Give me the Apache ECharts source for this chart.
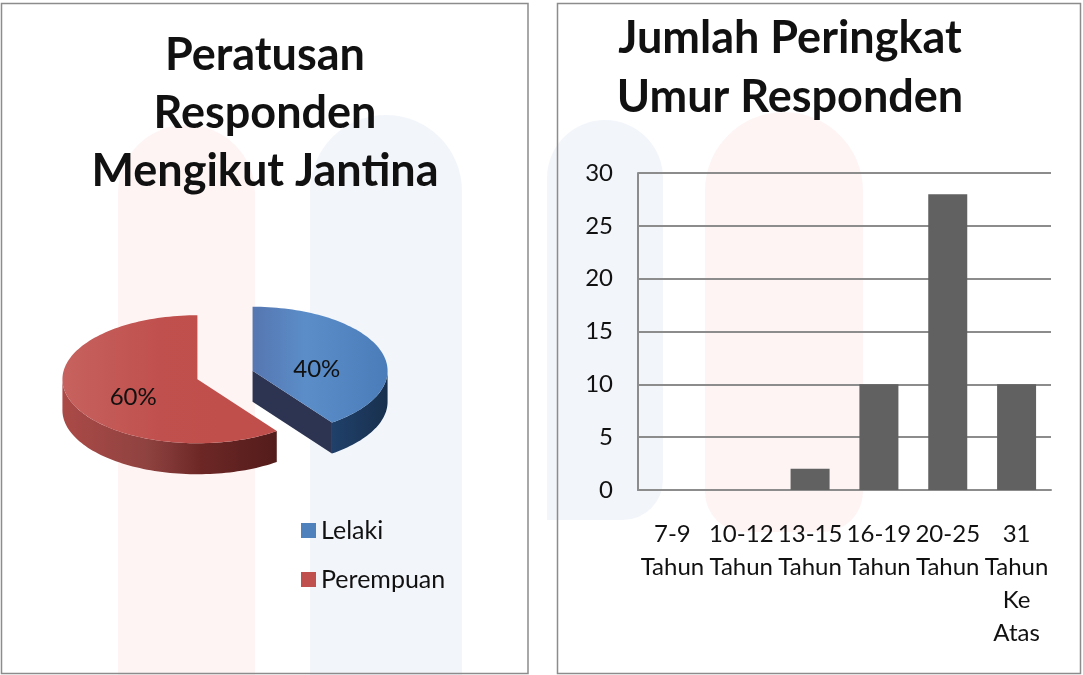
<!DOCTYPE html>
<html>
<head>
<meta charset="utf-8">
<script src="https://cdn.jsdelivr.net/npm/echarts@6/dist/echarts.min.js"></script>
<style>
html, body { margin: 0; padding: 0; background: #fff; }
#main { width: 1083px; height: 675px; }
</style>
</head>
<body>
<div id="main"></div>
<script>
// jantina (pie)
var genderNames = ['Lelaki', 'Perempuan'];
var genderValues = [40, 60];
var genderColors = ['#4f81bd', '#c0504d'];

// umur (bar)
var ageCategories = ['7-9\nTahun', '10-12\nTahun', '13-15\nTahun', '16-19\nTahun', '20-25\nTahun', '31\nTahun\nKe\nAtas'];
var ageValues = [0, 0, 2, 10, 28, 10];
var yMax = 30;
var yStep = 5;

var FONT = 'Lato, "Open Sans", sans-serif';
var total = genderValues.reduce(function (a, b) { return a + b; }, 0);

// ellipse pie geometry (3D look)
var pie = { cx: 225, cy: 375, rx: 135, ry: 64, depth: 31, explode: 29 };

// shading per slice: top, wall, cut face
var shades = [
  {
    top: [['#5676b0', 0], ['#5b8ec9', 0.4], ['#4a7cb9', 1]],
    wall: [['#20406a', 0], ['#18304e', 1]],
    cut: '#2d3452'
  },
  {
    top: [['#c6625f', 0], ['#c0504d', 0.45], ['#c04e4b', 1]],
    wall: [['#ab4a47', 0], ['#8e4240', 0.4], ['#6c2725', 0.65], ['#531c1b', 1]],
    cut: '#6a2624'
  }
];

function grad(stops) {
  return new echarts.graphic.LinearGradient(0, 0, 1, 0, stops.map(function (s) {
    return { offset: s[1], color: s[0] };
  }));
}

function pt(c, t, dy) {
  return [c[0] + pie.rx * Math.sin(t), c[1] - pie.ry * Math.cos(t) + (dy || 0)];
}

function arc(c, t0, t1, dy) {
  var pts = [];
  var n = Math.max(2, Math.ceil(Math.abs(t1 - t0) / 0.03));
  for (var i = 0; i <= n; i++) {
    pts.push(pt(c, t0 + (t1 - t0) * i / n, dy));
  }
  return pts;
}

function sliceRender(idx) {
  return function (params, api) {
    var before = 0;
    for (var i = 0; i < idx; i++) before += genderValues[i];
    var v = api.value(0);
    var a0 = before / total * 2 * Math.PI;
    var a1 = (before + v) / total * 2 * Math.PI;
    var mid = (a0 + a1) / 2;
    var c = [
      pie.cx + pie.explode * Math.sin(mid),
      pie.cy - pie.explode * Math.cos(mid) * pie.ry / pie.rx
    ];
    var d = pie.depth;
    var sh = shades[idx];
    var children = [];

    // cut faces
    if (Math.sin(a0) < -0.01) {
      var p0 = pt(c, a0);
      children.push({ type: 'polygon', shape: { points: [c, p0, [p0[0], p0[1] + d], [c[0], c[1] + d]] }, style: { fill: sh.cut } });
    }
    if (Math.sin(a1) > 0.01) {
      var p1 = pt(c, a1);
      children.push({ type: 'polygon', shape: { points: [c, p1, [p1[0], p1[1] + d], [c[0], c[1] + d]] }, style: { fill: sh.cut } });
    }

    // outer wall (front half only)
    var w0 = Math.max(a0, Math.PI / 2);
    var w1 = Math.min(a1, Math.PI * 1.5);
    if (w1 > w0) {
      var top = arc(c, w0, w1, 0);
      var bot = arc(c, w1, w0, d);
      children.push({ type: 'polygon', shape: { points: top.concat(bot) }, style: { fill: grad(sh.wall) } });
    }

    // top face
    children.push({ type: 'polygon', shape: { points: [c].concat(arc(c, a0, a1, 0)) }, style: { fill: grad(sh.top) } });

    // label
    var lx = c[0] + 0.5 * pie.rx * Math.sin(mid);
    var ly = c[1] - 0.5 * pie.ry * Math.cos(mid) + 8;
    children.push({
      type: 'text',
      style: {
        text: Math.round(v / total * 100) + '%',
        x: lx, y: ly, align: 'center', verticalAlign: 'middle',
        fontSize: 24, fontFamily: FONT, fill: '#111'
      }
    });
    return { type: 'group', children: children };
  };
}

var pieSeries = genderNames.map(function (name, i) {
  return {
    name: name,
    type: 'custom',
    coordinateSystem: 'none',
    itemStyle: { color: genderColors[i] },
    renderItem: sliceRender(i),
    data: [[genderValues[i]]]
  };
});

var chart = echarts.init(document.getElementById('main'), null, { renderer: 'canvas' });

var option = {
  backgroundColor: '#ffffff',
  animation: false,
  textStyle: { fontFamily: FONT },
  graphic: [
    // faint watermark behind
    { type: 'rect', z: 0, silent: true, shape: { x: 118, y: 125, width: 137, height: 550, r: [68, 68, 0, 0] }, style: { fill: 'rgba(230,70,70,0.06)' } },
    { type: 'rect', z: 0, silent: true, shape: { x: 310, y: 115, width: 152, height: 560, r: [76, 76, 0, 0] }, style: { fill: 'rgba(70,120,180,0.07)' } },
    { type: 'rect', z: 0, silent: true, shape: { x: 547, y: 120, width: 116, height: 400, r: [58, 58, 40, 0] }, style: { fill: 'rgba(70,120,180,0.07)' } },
    { type: 'rect', z: 0, silent: true, shape: { x: 705, y: 112, width: 158, height: 420, r: [79, 79, 40, 40] }, style: { fill: 'rgba(230,70,70,0.06)' } },
    // panel borders
    { type: 'rect', z: 1, silent: true, shape: { x: 1.5, y: 3.5, width: 526.5, height: 670 }, style: { fill: null, stroke: '#8c8c8c', lineWidth: 1.5 } },
    { type: 'rect', z: 1, silent: true, shape: { x: 557.5, y: 3.5, width: 523, height: 670 }, style: { fill: null, stroke: '#8c8c8c', lineWidth: 1.5 } }
  ],
  title: [
    {
      text: 'Peratusan\nResponden\nMengikut Jantina',
      left: 265, top: 26, textAlign: 'center', padding: 0,
      textStyle: { fontSize: 45, fontWeight: 'bold', lineHeight: 58, color: '#111', fontFamily: FONT }
    },
    {
      text: 'Jumlah Peringkat\nUmur Responden',
      left: 790, top: 9, textAlign: 'center', padding: 0,
      textStyle: { fontSize: 45, fontWeight: 'bold', lineHeight: 59, color: '#111', fontFamily: FONT }
    }
  ],
  legend: {
    orient: 'vertical',
    left: 301, top: 518, padding: 0,
    itemWidth: 15, itemHeight: 15, itemGap: 24,
    icon: 'rect',
    data: genderNames,
    textStyle: { fontSize: 25, color: '#111', fontFamily: FONT }
  },
  grid: { left: 638, right: 32, top: 173, bottom: 185, containLabel: false },
  xAxis: {
    type: 'category',
    data: ageCategories,
    axisLine: { show: true, lineStyle: { color: '#8c8c8c', width: 2 } },
    axisTick: { show: false },
    axisLabel: { interval: 0, fontSize: 24, lineHeight: 33, margin: 28, color: '#111', fontFamily: FONT }
  },
  yAxis: {
    type: 'value',
    min: 0, max: yMax, interval: yStep,
    axisLine: { show: true, lineStyle: { color: '#8c8c8c', width: 2 } },
    axisTick: { show: false },
    splitLine: { show: true, lineStyle: { color: '#8c8c8c', width: 2 } },
    axisLabel: { fontSize: 24, margin: 25, color: '#111', fontFamily: FONT }
  },
  series: [
    {
      name: 'Umur',
      type: 'bar',
      data: ageValues,
      barWidth: 39,
      itemStyle: { color: '#616161' }
    }
  ].concat(pieSeries)
};

chart.setOption(option);
</script>
</body>
</html>
